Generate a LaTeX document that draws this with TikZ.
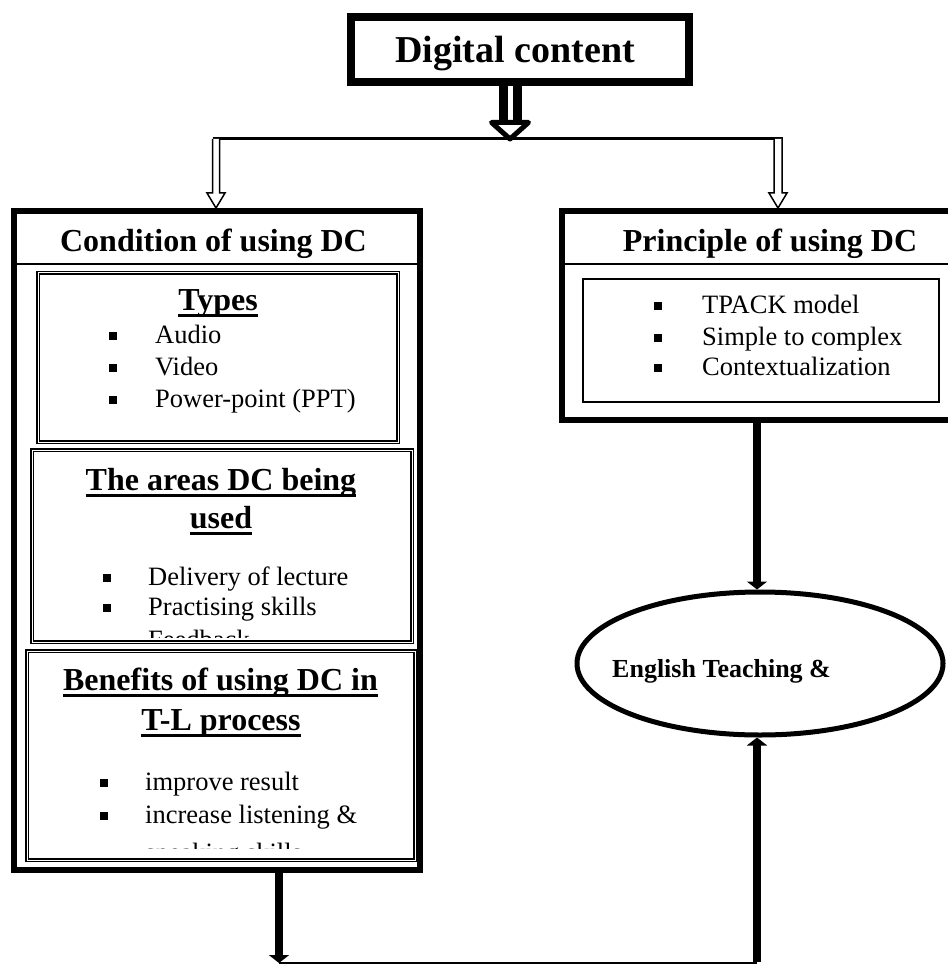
\documentclass[tikz,border=0pt]{standalone}
\usepackage{fontspec}
\setmainfont{Liberation Serif}
\usetikzlibrary{shapes.geometric,arrows.meta}
\newcommand\hul[1]{\setbox0\hbox{#1}\rlap{\rule[-7pt]{\wd0}{3pt}}\box0}
\tikzset{
  head/.style={font=\fontsize{32}{38}\selectfont\bfseries, anchor=base, inner sep=0pt},
  body/.style={font=\fontsize{26.5}{32}\selectfont, anchor=base west, inner sep=0pt},
  bul/.style={fill=black, minimum size=8.5pt, inner sep=0pt},
  dblbox/.style={draw, double, double distance=1pt, line width=1.1pt, fill=white, inner sep=0pt},
  bigbox/.style={draw, line width=6pt, fill=white, inner sep=0pt},
  hollowthin/.style={draw, line width=1.5pt, fill=white, line join=miter},
  hollowhead/.style={draw, line width=5pt, fill=white, line join=round},
  fatarrow/.style={line width=8pt, -{Triangle[width=20pt,length=8pt]}},
}
\begin{document}
\begin{tikzpicture}[x=1pt,y=-1pt]
\useasboundingbox (0,0) rectangle (947,965);

% ---- top box
\node[draw, line width=8pt, minimum width=338pt, minimum height=64.5pt, inner sep=0pt] (dc) at (520,49.75) {};
\node[font=\fontsize{38}{44}\selectfont\bfseries, anchor=base, inner sep=0pt] (dct) at (515,63) {Digital content};

% ---- fat hollow (double) arrow below top box
\coordinate (ds1) at (503,86);
\coordinate (ds2) at (517,86);
\draw[line width=9pt] (ds1) -- (503,122);
\draw[line width=9pt] (ds2) -- (517,122);
\draw[hollowhead] (491.5,122.5) -- (510,139) -- (528.5,122.5) -- cycle;

% ---- distribution line
\coordinate (hl) at (212.5,139);
\coordinate (hr) at (782.5,139);
\draw[line width=3pt] (hl) -- (hr);

% ---- small hollow arrows
\draw[hollowthin] (212.5,139) -- (212.5,193) -- (207,193) -- (216,208) -- (225,193) -- (219.5,193) -- (219.5,139);
\draw[hollowthin] (774,139) -- (774,193) -- (769,193) -- (778,208) -- (787,193) -- (782,193) -- (782,139);

% ---- left big box
\node[bigbox, minimum width=406pt, minimum height=659pt] (cond) at (217,540.5) {};
\draw[line width=2.5pt] (14,264) -- (420,264);
\node[head] (condt) at (213.5,252) {Condition of using DC};

% Types
\node[dblbox, minimum width=360pt, minimum height=169pt] (types) at (218,357.5) {};
\node[head] (typest) at (218,310) {\hul{Types}};
\node[bul] (tb1) at (113,336) {};
\node[bul] (tb2) at (113,368) {};
\node[bul] (tb3) at (113,400) {};
\node[body] (ti1) at (155,343) {Audio};
\node[body] (ti2) at (155,375) {Video};
\node[body] (ti3) at (155,407) {Power-point (PPT)};

% Areas
\node[dblbox, minimum width=380pt, minimum height=192pt] (areas) at (222,546) {};
\node[head] (areast1) at (221,490) {\hul{The areas DC being}};
\node[head] (areast2) at (221,528) {\hul{used}};
\node[bul] (ab1) at (107,578) {};
\node[bul] (ab2) at (107,608) {};
\node[body] (ai1) at (148,585) {Delivery of lecture};
\node[body] (ai2) at (148,615) {Practising skills};
\begin{scope}
  \clip (34,452) rectangle (410,637);
  \node[bul] (ab3) at (107,642) {};
  \node[body] (ai3) at (148,648) {Feedback};
\end{scope}

% Benefits
\node[dblbox, minimum width=388pt, minimum height=209pt] (ben) at (221,755.5) {};
\node[head] (bent1) at (220.5,690) {\hul{Benefits of using DC in}};
\node[head] (bent2) at (221,730) {\hul{T-L process}};
\node[bul] (bb1) at (104,783) {};
\node[bul] (bb2) at (104,816) {};
\node[body] (bi1) at (145,790) {improve result};
\node[body] (bi2) at (145,823) {increase listening \&};
\begin{scope}
  \clip (29,653) rectangle (413,848);
  \node[bul] (bb3) at (104,855) {};
  \node[body] (bi3) at (145,861) {speaking skills};
\end{scope}

% ---- right box (runs past the page edge)
\node[bigbox, minimum width=400pt, minimum height=209pt] (pr) at (762,315.5) {};
\draw[line width=2.5pt] (562,264) -- (960,264);
\node[head] (prt) at (770,252) {Principle of using DC};
\node[draw, line width=2pt, minimum width=356pt, minimum height=123pt, inner sep=0pt] (pri) at (761,340.5) {};
\node[bul] (pb1) at (658,306) {};
\node[bul] (pb2) at (658,338) {};
\node[bul] (pb3) at (658,368) {};
\node[body] (pi1) at (702,313) {TPACK model};
\node[body] (pi2) at (702,345) {Simple to complex};
\node[body] (pi3) at (702,375) {Contextualization};

% ---- ellipse
\node[draw, ellipse, line width=5pt, minimum width=366pt, minimum height=143pt, inner sep=0pt] (ell) at (760,663.5) {};
\node[font=\fontsize{26}{30}\selectfont\bfseries, anchor=base west, inner sep=0pt] (ellt) at (612,677) {English Teaching \&};

% ---- connectors
\coordinate (pa) at (757,423);
\draw[fatarrow] (pa) -- (pa |- ell.north);

\coordinate (lb) at (279,873);
\coordinate (bl) at (279,963);
\coordinate (br) at (757,963);
\draw[fatarrow] (lb) -- (bl);
\draw[line width=1.5pt] (bl) -- (br);
\draw[fatarrow] ([yshift=1pt]br) -- (br |- ell.south);
\end{tikzpicture}
\end{document}
